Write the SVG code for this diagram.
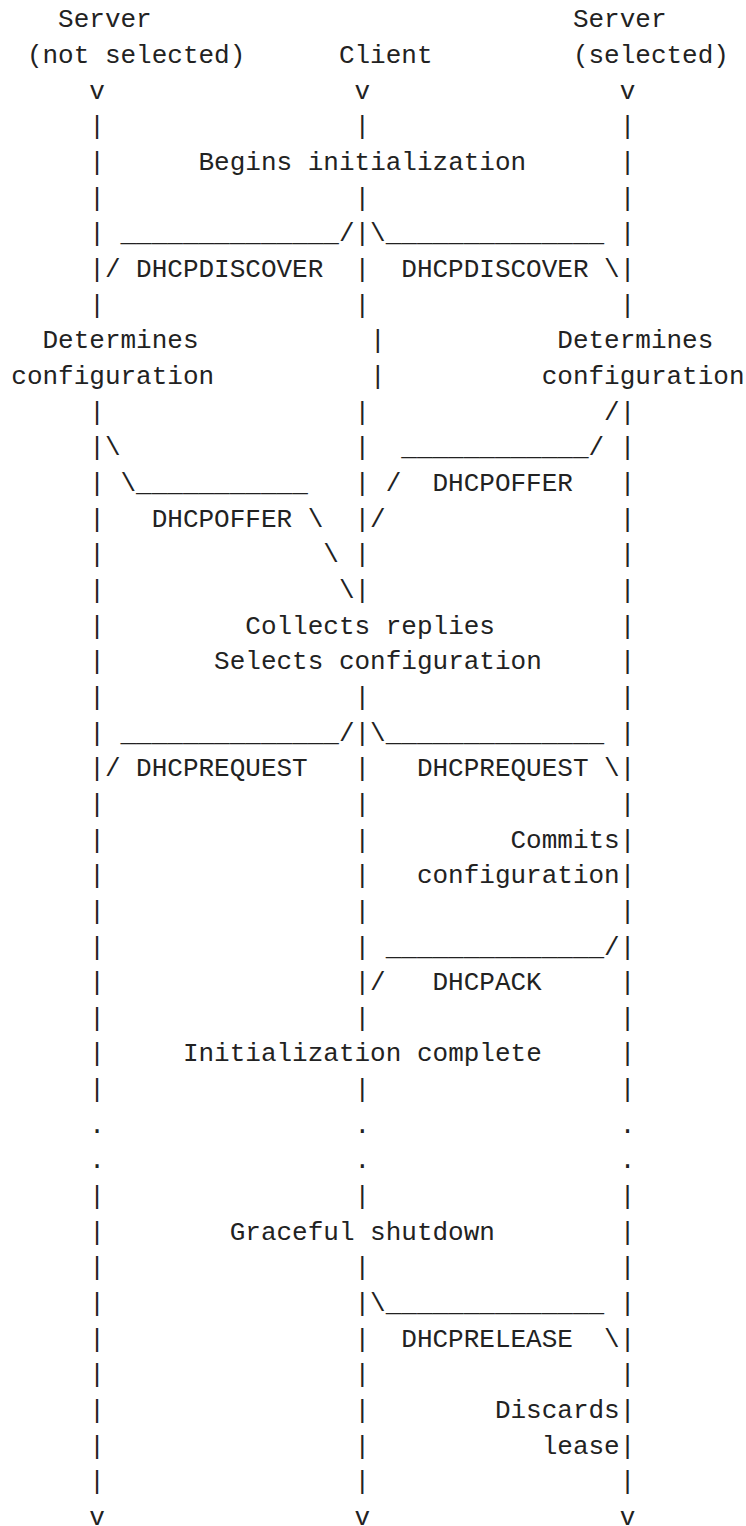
<svg xmlns="http://www.w3.org/2000/svg" width="746" height="1526" viewBox="0 0 746 1526">
<style>
text{font-family:"Liberation Mono","DejaVu Sans Mono",monospace;font-size:26px;fill:#222;}
</style>
<rect width="746" height="1526" fill="#fff"/>
<g id="participants">
<g id="server-not-selected"><text x="58.1" y="27.3">Server</text><text x="26.9" y="63">(not selected)</text></g>
<g id="client"><text x="338.9" y="63">Client</text></g>
<g id="server-selected"><text x="572.9" y="27.3">Server</text><text x="572.9" y="63">(selected)</text></g>
</g>
<g id="lifelines">
<text x="89.3 354.5 619.7" y="98.6">vvv</text>
<text x="89.3 354.5 619.7" y="134.3">|||</text>
<text x="89.3 619.7" y="169.9">||</text>
<text x="89.3 354.5 619.7" y="205.6">|||</text>
<text x="89.3 354.5 619.7" y="241.3">|||</text>
<text x="89.3 354.5 619.7" y="276.9">|||</text>
<text x="89.3 354.5 619.7" y="312.6">|||</text>
<text x="370.1" y="348.2">|</text>
<text x="370.1" y="383.9">|</text>
<text x="89.3 354.5 619.7" y="419.6">|||</text>
<text x="89.3 354.5 619.7" y="455.2">|||</text>
<text x="89.3 354.5 619.7" y="490.9">|||</text>
<text x="89.3 354.5 619.7" y="526.5">|||</text>
<text x="89.3 354.5 619.7" y="562.2">|||</text>
<text x="89.3 354.5 619.7" y="597.9">|||</text>
<text x="89.3 619.7" y="633.5">||</text>
<text x="89.3 619.7" y="669.2">||</text>
<text x="89.3 354.5 619.7" y="704.8">|||</text>
<text x="89.3 354.5 619.7" y="740.5">|||</text>
<text x="89.3 354.5 619.7" y="776.2">|||</text>
<text x="89.3 354.5 619.7" y="811.8">|||</text>
<text x="89.3 354.5 619.7" y="847.5">|||</text>
<text x="89.3 354.5 619.7" y="883.1">|||</text>
<text x="89.3 354.5 619.7" y="918.8">|||</text>
<text x="89.3 354.5 619.7" y="954.5">|||</text>
<text x="89.3 354.5 619.7" y="990.1">|||</text>
<text x="89.3 354.5 619.7" y="1025.8">|||</text>
<text x="89.3 619.7" y="1061.4">||</text>
<text x="89.3 354.5 619.7" y="1097.1">|||</text>
<text x="89.3 354.5 619.7" y="1132.8">...</text>
<text x="89.3 354.5 619.7" y="1168.4">...</text>
<text x="89.3 354.5 619.7" y="1204.1">|||</text>
<text x="89.3 619.7" y="1239.7">||</text>
<text x="89.3 354.5 619.7" y="1275.4">|||</text>
<text x="89.3 354.5 619.7" y="1311.1">|||</text>
<text x="89.3 354.5 619.7" y="1346.7">|||</text>
<text x="89.3 354.5 619.7" y="1382.4">|||</text>
<text x="89.3 354.5 619.7" y="1418">|||</text>
<text x="89.3 354.5 619.7" y="1453.7">|||</text>
<text x="89.3 354.5 619.7" y="1489.4">|||</text>
<text x="89.3 354.5 619.7" y="1525">vvv</text>
</g>
<g id="connectors">
<g id="discover-left"><text x="120.5" y="241.3">______________/</text><text x="104.9" y="276.9">/</text><text x="136.1" y="276.9">DHCPDISCOVER</text></g>
<g id="discover-right"><text x="370.1" y="241.3">\______________</text><text x="401.3" y="276.9">DHCPDISCOVER</text><text x="604.1" y="276.9">\</text></g>
<g id="offer-right"><text x="604.1" y="419.6">/</text><text x="401.3" y="455.2">____________/</text><text x="385.7" y="490.9">/</text><text x="432.5" y="490.9">DHCPOFFER</text><text x="370.1" y="526.5">/</text></g>
<g id="offer-left"><text x="104.9" y="455.2">\</text><text x="120.5" y="490.9">\___________</text><text x="151.7" y="526.5">DHCPOFFER</text><text x="307.7" y="526.5">\</text><text x="323.3" y="562.2">\</text><text x="338.9" y="597.9">\</text></g>
<g id="request-left"><text x="120.5" y="740.5">______________/</text><text x="104.9" y="776.2">/</text><text x="136.1" y="776.2">DHCPREQUEST</text></g>
<g id="request-right"><text x="370.1" y="740.5">\______________</text><text x="416.9" y="776.2">DHCPREQUEST</text><text x="604.1" y="776.2">\</text></g>
<g id="ack"><text x="385.7" y="954.5">______________/</text><text x="370.1" y="990.1">/</text><text x="432.5" y="990.1">DHCPACK</text></g>
<g id="release"><text x="370.1" y="1311.1">\______________</text><text x="401.3" y="1346.7">DHCPRELEASE</text><text x="604.1" y="1346.7">\</text></g>
</g>
<g id="notes">
<g id="begins"><text x="198.5" y="169.9">Begins initialization</text></g>
<g id="determines-left"><text x="42.5" y="348.2">Determines</text><text x="11.3" y="383.9">configuration</text></g>
<g id="determines-right"><text x="557.3" y="348.2">Determines</text><text x="541.7" y="383.9">configuration</text></g>
<g id="collects"><text x="245.3" y="633.5">Collects replies</text><text x="214.1" y="669.2">Selects configuration</text></g>
<g id="commits"><text x="510.5" y="847.5">Commits</text><text x="416.9" y="883.1">configuration</text></g>
<g id="init-complete"><text x="182.9" y="1061.4">Initialization complete</text></g>
<g id="shutdown"><text x="229.7" y="1239.7">Graceful shutdown</text></g>
<g id="discards"><text x="494.9" y="1418">Discards</text><text x="541.7" y="1453.7">lease</text></g>
</g>
</svg>
